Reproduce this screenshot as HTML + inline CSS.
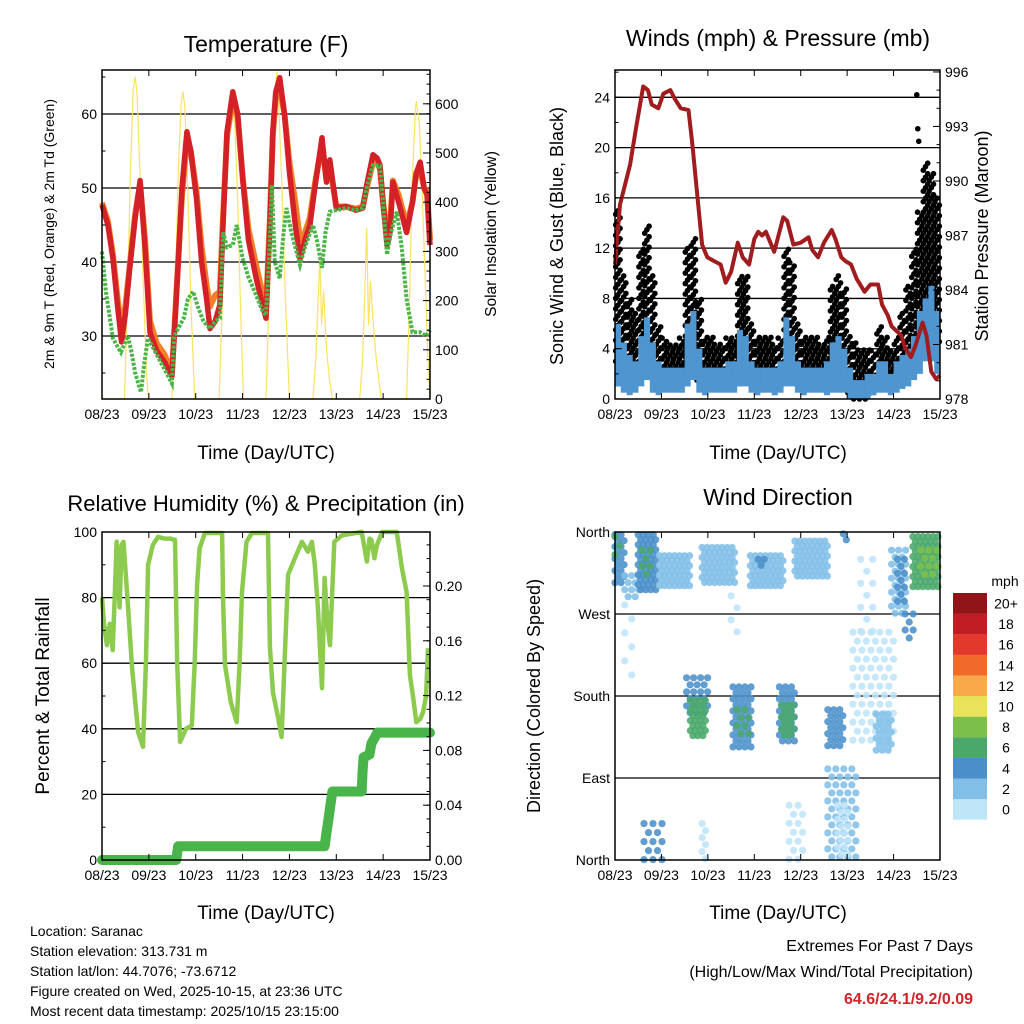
<!DOCTYPE html>
<html><head><meta charset="utf-8"><title>Saranac station meteogram</title>
<style>
html,body{margin:0;padding:0;background:#fff}
svg{display:block;font-family:"Liberation Sans",sans-serif}
</style></head>
<body>
<svg id="chart" width="1024" height="1024" viewBox="0 0 1024 1024" xmlns="http://www.w3.org/2000/svg">
<rect width="1024" height="1024" fill="#fff"/>
<text x="266" y="52" font-size="23" text-anchor="middle">Temperature (F)</text>
<text x="778" y="46" font-size="23" text-anchor="middle">Winds (mph) &amp; Pressure (mb)</text>
<text x="266" y="511" font-size="22" text-anchor="middle">Relative Humidity (%) &amp; Precipitation (in)</text>
<text x="778" y="505" font-size="23" text-anchor="middle">Wind Direction</text>
<text transform="translate(54,234) rotate(-90)" font-size="14" text-anchor="middle">2m &amp; 9m T (Red, Orange) &amp; 2m Td (Green)</text>
<text transform="translate(496,234) rotate(-90)" font-size="15.5" text-anchor="middle">Solar Insolation (Yellow)</text>
<text transform="translate(563,236) rotate(-90)" font-size="18" text-anchor="middle">Sonic Wind &amp; Gust (Blue, Black)</text>
<text transform="translate(988,236) rotate(-90)" font-size="18" text-anchor="middle">Station Pressure (Maroon)</text>
<text transform="translate(49,696) rotate(-90)" font-size="19" text-anchor="middle">Percent &amp; Total Rainfall</text>
<text transform="translate(540,696) rotate(-90)" font-size="18" text-anchor="middle">Direction (Colored By Speed)</text>
<text x="266" y="459" font-size="19" text-anchor="middle">Time (Day/UTC)</text>
<text x="778" y="459" font-size="19" text-anchor="middle">Time (Day/UTC)</text>
<text x="266" y="919" font-size="19" text-anchor="middle">Time (Day/UTC)</text>
<text x="778" y="919" font-size="19" text-anchor="middle">Time (Day/UTC)</text>
<g font-size="14">
<text x="30" y="936">Location: Saranac</text>
<text x="30" y="956">Station elevation: 313.731 m</text>
<text x="30" y="976">Station lat/lon: 44.7076; -73.6712</text>
<text x="30" y="996">Figure created on Wed, 2025-10-15, at 23:36 UTC</text>
<text x="30" y="1016">Most recent data timestamp: 2025/10/15 23:15:00</text>
</g>
<text x="973" y="951" font-size="16" text-anchor="end">Extremes For Past 7 Days</text>
<text x="973" y="977" font-size="16" text-anchor="end">(High/Low/Max Wind/Total Precipitation)</text>
<text x="973" y="1004" font-size="16" font-weight="bold" fill="#d3242a" text-anchor="end">64.6/24.1/9.2/0.09</text>
<text x="1005" y="586" font-size="14" text-anchor="middle">mph</text>
</svg>
<script>
const dayLabels=['08/23','09/23','10/23','11/23','12/23','13/23','14/23','15/23'];
const tempTicks=[30,40,50,60];
const solarTicks=[0,100,200,300,400,500,600];
const windTicks=[0,4,8,12,16,20,24];
const pressTicks=[978,981,984,987,990,993,996];
const rhTicks=[0,20,40,60,80,100];
const rainTicks=[0,0.04,0.08,0.12,0.16,0.20];
const dirTicks=[0,90,180,270,360];
const dirLabels=['North','East','South','West','North'];
const speedLabels=['0','2','4','6','8','10','12','14','16','18','20+'];
const speedColors=['#bfe5f9','#82bfe7','#4a8fc9','#4aa86b','#7cc04a','#e8e35a','#f8a94a','#f06a2c','#e1392b','#c01d24','#901519'];
// temperature series [hour, degF]
const temp2m=[[0,47.7],[3,45],[5.6,40.5],[8,34],[10,29.2],[12,33],[14,38.6],[17,46],[19.5,51],[22,42],[24.6,30.5],[28,28],[32,26.5],[35.8,24.5],[37,30],[39,39.6],[41,50],[43.5,57.6],[45.5,55],[48.4,48.6],[51,40],[53.5,35.1],[55.3,31],[58,32],[60.4,34.2],[62,45],[64,57.6],[67,63],[69.5,60],[72.2,50.8],[75,43],[79,37.8],[82,34.5],[84,32.4],[86,45],[87.5,57.6],[89,63],[91,64.9],[93.5,60],[96,52.2],[99,45],[101.4,40.5],[104,43],[106.5,45],[109,50],[112.7,56.8],[115,50.8],[116.7,53.8],[120,47.3],[125,47.5],[130,47],[133.6,47.3],[135.6,50.4],[138.8,54.5],[141,54],[142.4,53.1],[144,48],[146,42.3],[147.5,44],[149,50.8],[152,48],[156,44],[159,48],[161,52],[163,53.5],[165,50],[166.5,49],[168,42.3]];
const temp9m=[[0,48],[3,45.5],[5.6,41],[8,35],[10,31],[12,34],[14,39],[17,46.5],[19.5,50.5],[22,43],[24.6,32],[28,29],[32,27.5],[35.8,25],[37,30.5],[39,40],[41,49],[43.5,56.5],[45.5,55],[48.4,49.5],[51,42],[53.5,37],[55.3,34],[58,35.5],[60.4,36],[62,46],[64,57],[67,62],[69.5,59.5],[72.2,51],[75,44.5],[79,39.5],[82,36],[84,33.5],[86,46],[87.5,57],[89,62.5],[91,63.5],[93.5,60],[96,53.5],[99,48],[101.4,43],[104,44],[106.5,46],[109,50.5],[112.7,56],[115,51],[116.7,53],[120,47.5],[125,47.5],[130,47.2],[133.6,47.5],[135.6,50],[138.8,53.5],[141,53.5],[142.4,52.5],[144,48],[146,43.5],[147.5,45],[149,51],[152,49],[156,45],[159,48],[161,52],[163,52.5],[165,50],[166.5,49.5],[168,43]];
const dew2m=[[0,41.4],[2,36],[5.6,29.7],[7,29],[9.7,27.8],[13.2,30],[15,28],[17,25],[20,22.4],[21.5,26],[23.5,29.7],[27,28],[31,26],[35.8,23.6],[37,30],[40,31.5],[42,32.5],[44,35],[46.7,36],[49,34],[52,32],[55.3,31],[58,32],[60.4,32.4],[62,44],[64,42],[67,42.3],[69,45],[72,40.5],[75,38],[79,35.5],[82,33.5],[84,32.8],[85.5,40],[87,50.4],[88.5,40],[91,37.8],[93,44],[94.5,47.3],[97,44],[101.4,39.6],[104,42],[108,45],[110,43],[112.7,39.2],[114.5,44],[116.7,46.8],[120,47],[125,47.3],[130,47],[133.6,47.3],[135.6,50],[138.8,53.1],[142.4,53],[144,48],[146,41],[148,44],[151,46.8],[153.5,42],[156,35],[159,30.5],[163,30.5],[166,30],[168,30.8]];
// solar insolation [hour, W/m2]
const solar=[[0,0],[11.5,0],[13,200],[14.5,450],[16,630],[17,655],[18,620],[19.5,450],[21,250],[23,40],[23.8,0],[35.8,0],[37.5,200],[39,450],[40.5,600],[41.5,625],[42.5,590],[44,420],[45.5,200],[47.5,0],[60,0],[61.5,180],[63,420],[65,560],[66.6,595],[68,560],[69.5,400],[71,180],[72.5,0],[84,0],[85.5,200],[87,450],[88.5,620],[89.6,665],[90.5,600],[92,450],[94,200],[96,0],[108,0],[109.5,80],[110.5,180],[111.6,290],[112.5,150],[113.5,220],[115,100],[116.5,40],[118,0],[132,0],[133.5,80],[134.5,200],[135.6,348],[136.5,150],[137.5,240],[139,150],[140.5,80],[143,0],[156,0],[157.5,200],[159,450],[160.5,590],[161,605],[162.5,560],[164,420],[165.5,250],[167,80],[168,0]];
// winds, 3-hour bins (mph)
const gustHi=[15,10,8,7,12,14,10,6,5,4.5,4.5,5,12,13,8,5,5,4.5,4.5,5,5,10,10,6,5,5,5,4.5,5,12,11,6,5,5,5,4.5,5,9,10,9,5,4.5,4,4,4,6,5,4,5,7,9,12,15,19,18,16];
const gustLo=[3,2,1.5,1.5,3,4,2,1,1.5,1.5,1.5,1.5,2.5,3,1.5,1,1,1,1,1.5,1.5,2.5,2.5,1.5,1,1,1,1,1.5,3,2.5,1.5,1,1,1,1,1,2,2,1.5,0.5,0,0,0,0.5,1,1,1,1,1.5,2,3,4,4,4,4];
const windHi=[6,4.5,3.5,3,5,6.5,4.5,3,2.5,2.5,2.5,2.5,6,7,4,2.5,2.5,2.5,2.5,3,3,5.5,5,3,2.5,2.5,2.5,2.5,3,6.5,5,3,2.5,2.5,2.5,2.5,3,4.5,5,4,2.5,1.5,1.5,2,2,3,3,2,3,3.5,4,5,7,8,9,7];
const windLo=[1,0.5,0.3,0.5,1,1.5,0.5,0.3,0.5,0.5,0.5,0.5,1,1.5,0.5,0.3,0.5,0.5,0.5,0.5,0.5,1,1,0.5,0.3,0.5,0.5,0.3,0.5,1,1,0.5,0.3,0.5,0.5,0.5,0.3,0.5,0.5,0.5,0,0,0,0,0.3,0.5,0.5,0.3,0.5,0.8,1,1.5,2,3,3,2];
const extremeGust=[[156,24.2],[156.5,21.5],[157,20.5]];
const pressure=[[0,985.4],[2.6,988.7],[7.8,990.9],[11,993],[14.6,995.2],[17,995],[19,994.2],[22.4,994],[25,994.8],[28.6,995],[31,994.5],[34,994],[38,993.9],[40,992],[43,988.7],[45,986.5],[47.7,985.8],[51,985.6],[54.6,985.4],[57.2,984.4],[60,985],[63.5,986.6],[66,985.8],[69.3,985.4],[72,986.8],[74,987.2],[76,987],[78,987.2],[82.3,986.1],[87,988],[89,987.8],[92.2,986.5],[96,986.6],[100,986.9],[102,986.2],[105,985.8],[108,986.6],[112,987.3],[114,986.8],[117,985.8],[119,985.6],[122,985.4],[125,984.6],[129,983.9],[132,984.3],[136,984.3],[138,983.2],[141,982.6],[143,982],[146,981.7],[148,981.5],[150,980.8],[153,980.3],[155.5,981],[159,982.2],[161,981.5],[163.5,979.5],[166,979.1],[168,979.3]];
// relative humidity and cumulative rain
const rh=[[0,80],[1,72],[2.5,65.5],[4,72],[5.5,64],[6.5,80],[7.5,97],[9,77],[10,96],[11,97],[13,80],[15.4,58.5],[18.5,39],[21,34.5],[22.5,60],[23.6,90],[26,96],[28.7,98.5],[32,98],[35,98],[37.4,97.6],[38.5,60],[40,36],[43,40],[46,41],[47.5,60],[48.7,84],[50,95],[52.7,99.7],[61.5,99.7],[62,80],[63,59.5],[66,48],[69,42],[70.5,60],[71.7,81.7],[74,97],[76.8,99.7],[85,99.7],[86,65],[87.6,51],[90,44],[92,37.5],[93.5,60],[95.3,87],[98.8,92],[102.4,97],[105.5,94],[107.5,97],[109,90],[110.6,77],[112.7,52.4],[114,86],[115.5,72],[116.8,65.5],[119,97],[123,99],[133,100],[135.7,91],[137,98],[138,97.6],[139.5,92],[140.8,96],[143.5,100],[151,100],[153.6,89],[156,81.7],[157.7,56.4],[159.5,49],[161,42],[163,43],[164.4,45],[166,50],[167,64.6]];
const rain=[[0,0],[38,0],[39,0.01],[114,0.01],[115,0.02],[116,0.03],[117,0.04],[118,0.05],[133,0.05],[133.5,0.065],[134,0.075],[137,0.077],[138,0.085],[140,0.09],[141,0.093],[168,0.093]];
// wind direction clusters [startHour, endHour, dirLow, dirHigh, speedLevel, spacing]
const dirClusters=[[0,6,302,357,2,6],[0,4,330,355,3,9],[5,13,288,312,1,7],[12,22,296,357,2,5],[14,20,310,340,3,8],[23,39,296,334,1,5],[45,63,300,343,1,5],[70,87,296,334,1,5],[74,78,320,330,2,6],[93,111,308,350,1,5],[118,121,345,358,2,6],[143,152,270,340,1,7],[146,150,280,330,2,7],[154,168,300,355,3,5],[158,168,305,340,4,8],[37,48,160,200,2,7],[39,47,135,175,3,5],[61,71,120,190,2,6],[63,70,130,165,3,8],[85,94,130,190,2,6],[86,93,135,170,3,6],[110,118,125,165,2,6],[123,146,130,250,0,9],[135,144,120,160,1,6],[110,125,0,100,1,8],[115,122,0,60,0,7],[15,25,0,40,2,9],[45,47,0,40,0,7],[90,98,0,60,0,9],[5,10,200,280,0,14],[60,64,240,290,0,12],[127,135,250,330,0,12],[150,155,240,270,2,8]];

const NS='http://www.w3.org/2000/svg';
const svg=document.getElementById('chart');
function mk(tag,attrs,parent){const e=document.createElementNS(NS,tag);for(const k in attrs)e.setAttribute(k,attrs[k]);(parent||svg).appendChild(e);return e;}
const P1={x0:102,x1:430,y0:70,y1:399},P2={x0:615,x1:940,y0:70,y1:399},P3={x0:102,x1:430,y0:532,y1:860},P4={x0:615,x1:940,y0:532,y1:860};
const xs=(p,t)=>p.x0+t/168*(p.x1-p.x0);
const yT=v=>336-(v-30)*7.4, yS=v=>399-v*0.492, yW=v=>399-v*12.57, yP=v=>399-(v-978)*18.17;
const yRH=v=>860-v*3.28, yR=v=>860-v*1370, yD=v=>860-v*328/360;

function frame(p,name){
  const g=mk('g',{});
  
  
  return g;
}
function gridLine(g,p,y,name){const l=mk('line',{x1:p.x0,x2:p.x1,y1:y,y2:y,stroke:'#000','stroke-width':1.3},g);
  
  }
function box(p,name){const r=mk('rect',{x:p.x0,y:p.y0,width:p.x1-p.x0,height:p.y1-p.y0,fill:'none',stroke:'#000','stroke-width':1.5});
  
  }
function xAxis(p,name){
  const g=mk('g',{});
  
  
  dayLabels.forEach((d,i)=>{const x=xs(p,i*24);
    mk('line',{x1:x,x2:x,y1:p.y1,y2:p.y1-6,stroke:'#000'},g);
    mk('line',{x1:x,x2:x,y1:p.y0,y2:p.y0+6,stroke:'#000'},g);
    const t=mk('text',{x:x,y:p.y1+20,'font-size':14,'text-anchor':'middle'},g);t.textContent=d;
    
    });
}
function yAxis(p,ticks,fy,fmt,side,name,minor){
  const g=mk('g',{});
  
  
  const x=side==='l'?p.x0:p.x1, d=side==='l'?1:-1;
  (minor||[]).forEach(v=>{const y=fy(v);if(y<p.y0||y>p.y1)return;mk('line',{x1:x,x2:x+d*3.5,y1:y,y2:y,stroke:'#000'},g);});
  ticks.forEach((v,i)=>{const y=fy(v);mk('line',{x1:x,x2:x+d*7,y1:y,y2:y,stroke:'#000'},g);
    const t=mk('text',{x:side==='l'?x-5:x+5,y:y+5,'font-size':14,'text-anchor':side==='l'?'end':'start'},g);t.textContent=fmt(v,i);
    
    });
}
function path(pts,fx,fy){return pts.map((q,i)=>(i?'L':'M')+fx(q[0]).toFixed(1)+' '+fy(q[1]).toFixed(1)).join(' ');}
const range=(a,b,s)=>{const r=[];for(let v=a;v<=b+1e-9;v+=s)r.push(v);return r;};

// ---- Panel 1: temperature
const g1=frame(P1,'temperature');
tempTicks.forEach(v=>gridLine(g1,P1,yT(v),'temperature-gridline'));
const sol=mk('path',{d:path(solar,t=>xs(P1,t),yS),fill:'none',stroke:'#fde35e','stroke-width':1.2});


const t9=mk('path',{d:path(temp9m,t=>xs(P1,t),yT),fill:'none',stroke:'#f47f29','stroke-width':6,'stroke-linejoin':'round'});


const t2=mk('path',{d:path(temp2m,t=>xs(P1,t),yT),fill:'none',stroke:'#d42127','stroke-width':5.5,'stroke-linejoin':'round'});


const td=mk('path',{d:path(dew2m,t=>xs(P1,t),yT),fill:'none',stroke:'#4bb547','stroke-width':4,'stroke-dasharray':'3 1.5'});


box(P1,'temperature');xAxis(P1,'temperature');
yAxis(P1,tempTicks,yT,v=>v,'l','temperature-y-axis',range(25,65,5));
yAxis(P1,solarTicks,yS,v=>v,'r','solar-y-axis',range(0,660,20));

// ---- Panel 2: winds
const g2=frame(P2,'winds');
windTicks.slice(1).forEach(v=>gridLine(g2,P2,yW(v),'wind-gridline'));
const gg=mk('g',{fill:'#000'});


gustHi.forEach((hi,i)=>{const lo=gustLo[i];const xc=xs(P2,i*3+1.5);let k=0;
  for(let y=yW(lo);y>=yW(hi)-0.1;y-=3.5,k++){const c=mk('circle',{cx:(xc+((k%3)-1)*2.2).toFixed(1),cy:y.toFixed(1),r:2.8},gg);
    
    }});
extremeGust.forEach(q=>{const c=mk('circle',{cx:xs(P2,q[0]),cy:yW(q[1]),r:2.8},gg);
  
  });
const wg=mk('g',{fill:'#4f95d0'});


windHi.forEach((hi,i)=>{const x0=xs(P2,i*3),x1=xs(P2,i*3+3);
  const r=mk('rect',{x:x0.toFixed(1),y:yW(hi).toFixed(1),width:(x1-x0+0.3).toFixed(1),height:(yW(windLo[i])-yW(hi)).toFixed(1)},wg);
  
  });
const pr=mk('path',{d:path(pressure,t=>xs(P2,t),yP),fill:'none',stroke:'#a01c1f','stroke-width':4,'stroke-linejoin':'round'});


box(P2,'winds');xAxis(P2,'winds');
yAxis(P2,windTicks,yW,v=>v,'l','wind-y-axis',range(0,26,2));
yAxis(P2,pressTicks,yP,v=>v,'r','pressure-y-axis',range(978,996,1));

// ---- Panel 3: humidity
const g3=frame(P3,'humidity');
[20,40,60,80].forEach(v=>gridLine(g3,P3,yRH(v),'humidity-gridline'));
const rn=mk('path',{d:path(rain,t=>xs(P3,t),yR),fill:'none',stroke:'#49b449','stroke-width':10,'stroke-linecap':'round','stroke-linejoin':'round'});


const rl=mk('path',{d:path(rh,t=>xs(P3,t),yRH),fill:'none',stroke:'#8ccb4e','stroke-width':4.5,'stroke-linejoin':'round'});


box(P3,'humidity');xAxis(P3,'humidity');
yAxis(P3,rhTicks,yRH,v=>v,'l','humidity-y-axis',range(10,90,20));
yAxis(P3,rainTicks,yR,v=>v.toFixed(2),'r','rain-y-axis',range(0,0.23,0.01));

// ---- Panel 4: direction
const g4=frame(P4,'direction');
[90,180,270].forEach(v=>gridLine(g4,P4,yD(v),'direction-gridline'));
const dg=mk('g',{'fill-opacity':0.88});


dirClusters.forEach(c=>{const [t0,t1,dl,dh,lev,s]=c;const xa=xs(P4,t0),xb=xs(P4,t1);let row=0;
  for(let y=yD(dh);y<=yD(dl)+0.1;y+=s,row++){for(let x=xa+(row%2?s/2:0);x<=xb;x+=s){
    const e=mk('circle',{cx:x.toFixed(1),cy:y.toFixed(1),r:3.6,fill:speedColors[lev]},dg);
    
    }}});
box(P4,'direction');xAxis(P4,'direction');
yAxis(P4,dirTicks,yD,(v,i)=>dirLabels[i],'l','direction-y-axis',[]);
const cb=mk('g',{});


speedLabels.forEach((lab,i)=>{const k=speedLabels.length-1-i;const y=593+k*20.6;
  const r=mk('rect',{x:953,y:y.toFixed(1),width:34,height:20.7,fill:speedColors[i]},cb);
  
  
  const t=mk('text',{x:1006,y:(y+15.5).toFixed(1),'font-size':14,'text-anchor':'middle'},cb);t.textContent=lab;
  
  });
</script>
</body></html>
